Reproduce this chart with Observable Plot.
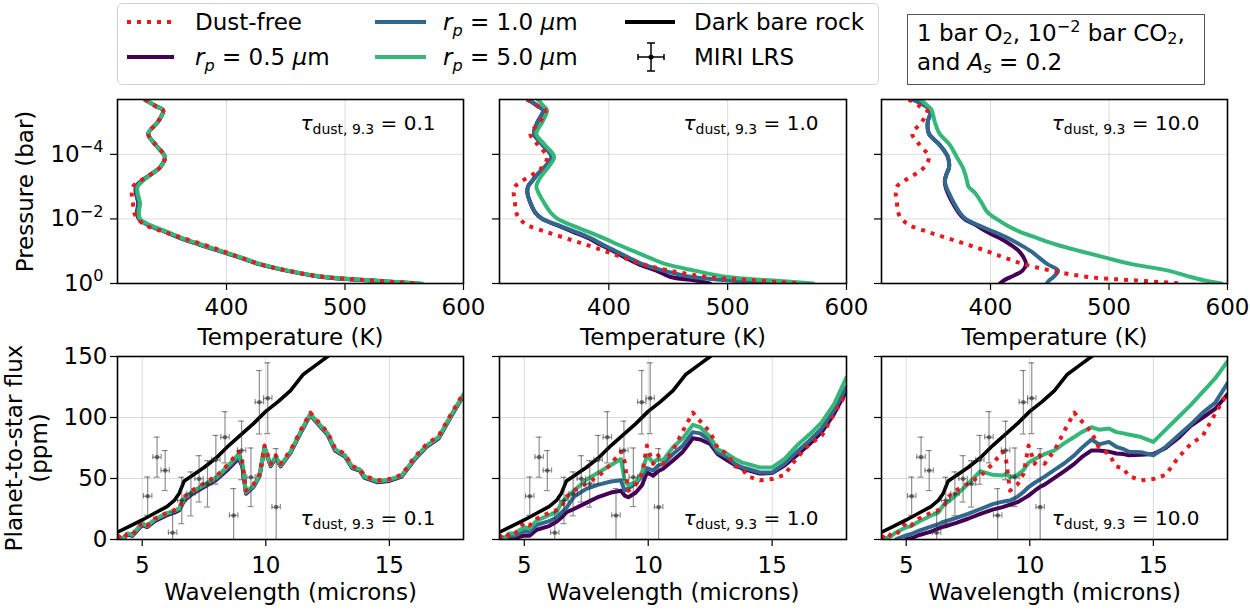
<!DOCTYPE html>
<html>
<head>
<meta charset="utf-8">
<script src="https://cdn.jsdelivr.net/npm/d3@7"></script>
<script src="https://cdn.jsdelivr.net/npm/@observablehq/plot@0.6"></script>
<style>
html,body{margin:0;padding:0;background:#fff;}
#fig{position:relative;width:1250px;height:610px;overflow:hidden;font-family:"DejaVu Sans",sans-serif;font-size:23px;color:#000;}
.abs{position:absolute;white-space:nowrap;line-height:28px;height:28px;}
.it{font-style:italic;}
sub,sup{font-size:70%;line-height:0;}
.legend{position:absolute;left:117px;top:3px;width:762px;height:82px;border:1.3px solid #d3d3d3;border-radius:5px;box-sizing:border-box;background:#fff;}
.note{position:absolute;left:907px;top:14px;width:298px;height:71px;border:1.3px solid #555;box-sizing:border-box;background:#fff;}
.note div{position:absolute;left:9px;top:4px;white-space:nowrap;line-height:29px;}
.note sub{vertical-align:-3px;}
svg.sw{position:absolute;overflow:visible;}
</style>
</head>
<body>
<div id="fig">
  <div class="legend"></div>
  <svg class="sw" style="left:127px;top:17px" width="47" height="10"><line x1="0" y1="5" x2="47" y2="5" stroke="#e41a1c" stroke-width="4" stroke-dasharray="4,6"/></svg>
  <div class="abs" style="left:195px;top:8px">Dust-free</div>
  <svg class="sw" style="left:127px;top:52px" width="47" height="10"><line x1="0" y1="5" x2="47" y2="5" stroke="#440154" stroke-width="4"/></svg>
  <div class="abs" style="left:195px;top:43px"><span class="it">r<sub>p</sub></span> = 0.5 <span class="it">μ</span>m</div>
  <svg class="sw" style="left:375px;top:17px" width="51" height="10"><line x1="0" y1="5" x2="51" y2="5" stroke="#31688e" stroke-width="4"/></svg>
  <div class="abs" style="left:443px;top:8px"><span class="it">r<sub>p</sub></span> = 1.0 <span class="it">μ</span>m</div>
  <svg class="sw" style="left:375px;top:52px" width="51" height="10"><line x1="0" y1="5" x2="51" y2="5" stroke="#35b779" stroke-width="4"/></svg>
  <div class="abs" style="left:443px;top:43px"><span class="it">r<sub>p</sub></span> = 5.0 <span class="it">μ</span>m</div>
  <svg class="sw" style="left:625px;top:17px" width="50" height="10"><line x1="0" y1="5" x2="50" y2="5" stroke="#000" stroke-width="4"/></svg>
  <div class="abs" style="left:694px;top:8px">Dark bare rock</div>
  <svg class="sw" style="left:636px;top:42px" width="30" height="30"><g stroke="#000" stroke-width="1.5"><line x1="15" y1="1" x2="15" y2="29"/><line x1="11" y1="1" x2="19" y2="1"/><line x1="11" y1="29" x2="19" y2="29"/><line x1="2" y1="15" x2="28" y2="15"/><line x1="2" y1="12" x2="2" y2="18"/><line x1="28" y1="12" x2="28" y2="18"/></g><circle cx="15" cy="15" r="2.5" fill="#000"/></svg>
  <div class="abs" style="left:694px;top:43px">MIRI LRS</div>
  <div class="note">
    <div>1 bar O<sub>2</sub>, 10<sup>−2</sup> bar CO<sub>2</sub>,<br>and <span class="it">A<sub>s</sub></span> = 0.2</div>
  </div>
</div>
<script>
// ---------------- data ----------------
const logPressure = [-5.7, -5.5, -5.36, -5.0, -4.64, -4.3, -3.92, -3.6, -3.4, -3.2, -3.0, -2.8, -2.5, -2.2, -2.0, -1.8, -1.6, -1.4, -1.2, -1.0, -0.8, -0.6, -0.4, -0.2, -0.1, 0];
const tpDustFree = [331, 340, 346.5, 342, 334, 340, 348, 344, 337, 328, 321, 320, 321, 322, 325, 332, 347, 364, 381, 397, 412, 428, 451, 483, 520, 562];
const tpTau01_r05 = [331, 340, 346.5, 342, 334, 340, 348, 344, 337, 329, 323.5, 323.5, 325.5, 324.5, 326, 334.5, 348.5, 361.5, 377.5, 394.5, 411.5, 427.5, 450.5, 481, 519, 560];
const tpTau01_r10 = [331, 340, 346.5, 342, 334, 340, 348, 344, 337, 329.5, 324, 324, 326, 325, 326.5, 335, 349, 362, 378, 395, 412, 428, 451, 482, 520, 562];
const tpTau01_r50 = [331, 340, 346.6, 342, 334, 340, 348, 344, 337, 330, 325, 325, 327, 326, 327, 336, 350, 363, 379, 396, 413, 429, 452, 484, 523, 565];
const tpTau1_r05 = [332, 340, 344.7, 340, 337, 344, 351.8, 346, 340.4, 336, 332, 331.5, 334, 338, 344, 357, 370, 383, 393, 404, 414, 425, 440, 452, 472, 485];
const tpTau1_r10 = [332, 340, 344.7, 340, 337, 344, 351.8, 346, 340.4, 336, 332, 331.5, 334, 338, 344, 358, 372, 385, 395, 406, 417, 428, 446, 470, 500, 535];
const tpTau1_r50 = [340, 345, 348, 344, 339, 346, 354, 349, 344.7, 341, 339, 341, 345.5, 351, 357, 369, 383, 396, 408, 421, 434, 448, 472, 500, 535, 572];
const tpTau10_r05 = [334.5, 345, 349.8, 347, 348, 357, 364, 365, 363, 361.5, 362, 364, 368, 373, 378, 388, 397, 408, 417, 424, 428, 430, 427, 417, 411.5, 408];
const tpTau10_r10 = [334.5, 345, 349.8, 347, 348, 357, 364, 365, 363, 361.5, 362.5, 365, 369, 374, 379, 390, 403, 415, 425, 434, 441, 448, 457, 453, 449.5, 447.5];
const tpTau10_r50 = [341, 347, 350.4, 353, 357, 365.5, 371.5, 376.5, 378.5, 380, 381.5, 387, 392.5, 397.5, 405, 414, 425, 440, 456, 476, 497, 519, 550, 569, 580, 595];

const wavelength = [4.0, 4.2, 4.4, 4.6, 5.0, 5.2, 5.5, 6.0, 6.3, 6.5, 6.7, 7.0, 7.5, 8.0, 8.5, 8.9, 9.05, 9.2, 9.5, 9.75, 9.95, 10.2, 10.4, 10.6, 11.0, 11.4, 11.8, 12.1, 12.5, 12.8, 13.2, 13.5, 13.8, 14.0, 14.5, 15.0, 15.5, 16.0, 16.5, 17.0, 17.5, 18.0];
const fluxDustFree = [3.3, 0, 5, 4, 14, 11.5, 17, 22, 24, 26, 35, 40, 46, 52, 62, 72, 64, 40, 45, 54, 77, 62, 69, 62, 73, 89, 104, 97, 88, 75, 70, 60, 58, 52, 48.5, 49.5, 53, 67, 78, 85, 103, 120];
const fluxTau01_r05 = [2.5, 0, 4, 3, 12, 10, 15, 20, 22, 24, 32, 37, 43, 49, 58, 66.5, 60, 37.5, 43, 52, 75, 60, 67, 60, 71, 87, 102, 95, 86, 73, 68, 58.5, 56.5, 50.5, 47, 48, 51.5, 65, 76, 83, 101, 118];
const fluxTau01_r10 = [3, 0, 4.5, 3.5, 13, 10.5, 16, 21, 23, 25, 33, 38, 44, 50, 59.5, 68, 61, 38, 43.5, 52.5, 75.5, 60.5, 67.5, 60.5, 71.5, 87.5, 102.5, 95.5, 86.5, 73.5, 68.5, 59, 57, 51, 47.5, 48.5, 52, 65.5, 76.5, 83.5, 101.5, 118.5];
const fluxTau01_r50 = [3.3, 0.5, 5, 4, 13.5, 11, 16.5, 21.5, 23.5, 25.5, 34, 39, 45, 51, 61, 70, 62, 39, 44, 53, 76, 61, 68, 61, 72, 88, 103, 96, 87, 74, 69, 59.5, 57.5, 51.5, 48, 49, 52.5, 66, 77, 84, 102, 119];
const fluxTau1_r05 = [0.5, 0, 1, 1, 3.3, 3, 8, 11, 14.5, 18, 22.3, 25, 30, 35, 38.5, 40, 36, 34.6, 38.5, 44.5, 55, 52.3, 56, 58, 64.7, 72, 83, 82, 78.4, 70, 64.7, 61, 58, 57, 54, 54.5, 60.6, 69, 78, 88, 103, 122];
const fluxTau1_r10 = [0.5, 0, 3, 3, 7, 6, 12, 15, 18, 22, 26, 35, 41.5, 45, 47.5, 48.5, 40, 42, 46, 52, 58.5, 56.5, 60.6, 62, 70, 77, 88, 87, 81, 71.6, 67.5, 62, 59, 58, 55, 55, 62, 72, 81, 91, 106, 125];
const fluxTau1_r50 = [3.3, 1, 5, 5, 10, 9, 15.5, 20, 22.3, 30, 34, 40, 49, 55, 61, 66, 48, 44.5, 47, 55, 69, 63, 66, 65, 75.7, 83, 94, 92, 84, 74, 70, 66, 63, 62, 59, 59, 66, 77, 86, 96, 111, 133];
const fluxTau10_r05 = [null, null, null, null, 0.5, 1, 3.5, 6.5, 9, 10.5, 11.5, 13.5, 17, 21, 24.5, 26.5, 27.5, 28.5, 30.6, 33.5, 36, 40, 43, 45, 50.5, 56, 62, 67.5, 73, 73, 72, 70.5, 70, 69, 69.5, 70, 75, 83, 93, 100, 107, 119];
const fluxTau10_r10 = [null, null, null, 0.3, 3.3, 4.5, 7, 10.5, 12.5, 14.5, 15.6, 17.5, 21, 25, 29, 31, 31.5, 32, 35, 39, 43, 46.5, 49, 51.5, 57, 62.5, 69, 75, 82, 78, 80, 76, 74, 72, 71.6, 69, 76, 85, 94, 104, 112, 128];
const fluxTau10_r50 = [1.5, 1, 3, 6, 10, 11, 14.5, 19.5, 22, 28, 31, 36, 45.5, 56, 53, 52.5, 54, 51, 53, 57, 63, 66, 68, 70, 73, 79, 84, 88, 92, 90, 91, 88, 87, 86, 84, 80, 90, 100, 110, 121, 132, 146];

const rockWavelength = [4.0, 4.5, 5.0, 5.5, 6.0, 6.3, 6.5, 6.7, 7.0, 7.5, 8.0, 8.5, 9.0, 9.5, 10.0, 10.5, 11.0, 11.5, 12.0, 12.5, 13.0];
const rockFlux = [6, 11, 16, 21.5, 27, 32, 38, 48, 52, 59, 67, 77, 86, 95, 105, 113, 122, 135, 142.5, 150, 158];

const miriWavelength = [5.22, 5.6, 5.93, 6.23, 6.6, 6.97, 7.3, 7.64, 7.98, 8.35, 8.7, 9.02, 9.4, 9.74, 10.08, 10.42];
const miriFlux = [35.5, 67.5, 56.5, 5.5, 32, 37.4, 49.7, 45.6, 65.3, 83.8, 19.7, 73, 51, 112.5, 115.8, 26.5];
const miriFluxErr = [15.7, 16.4, 16.4, 17, 19, 18, 19, 19, 20, 21, 22, 24, 24, 26, 29, 48];
const miriHalfWidth = 0.17;

const tauLabels = ["0.1", "1.0", "10.0"];
const tempTicks = [400, 500, 600];
const pressureTicks = [1e-4, 1e-2, 1];
const waveTicks = [5, 10, 15];
const fluxTicks = [0, 50, 100, 150];

const tpSets = [
  [tpTau01_r05, tpTau01_r10, tpTau01_r50],
  [tpTau1_r05, tpTau1_r10, tpTau1_r50],
  [tpTau10_r05, tpTau10_r10, tpTau10_r50]
];
const fluxSets = [
  [fluxTau01_r05, fluxTau01_r10, fluxTau01_r50],
  [fluxTau1_r05, fluxTau1_r10, fluxTau1_r50],
  [fluxTau10_r05, fluxTau10_r10, fluxTau10_r50]
];
const seriesColors = ["#440154", "#31688e", "#35b779"];
const dustColor = "#e41a1c";

// ---------------- layout ----------------
const fig = document.getElementById("fig");
const cols = [
  {left: 0, width: 480, mL: 117, mR: 17},
  {left: 480, width: 385, mL: 19, mR: 19},
  {left: 865, width: 385, mL: 16, mR: 23}
];
const baseStyle = {fontFamily: "DejaVu Sans", fontSize: "23px", color: "black", background: "transparent", overflow: "visible"};
const gridStyle = {stroke: "#000", strokeOpacity: 0.14, strokeWidth: 1};
const errStyle = {stroke: "#333", strokeOpacity: 0.55, strokeWidth: 1.2, clip: true};

function fixTexts(svg) {
  d3.select(svg).selectAll("text").each(function () {
    const t = this.textContent;
    const sel = d3.select(this);
    let m;
    if ((m = t.match(/^10\^(-?\d+)$/))) {
      sel.text("");
      sel.append("tspan").text("10");
      sel.append("tspan").attr("dy", "-0.6em").attr("font-size", "0.7em").text(m[1].replace("-", "\u2212"));
    } else if ((m = t.match(/^τ_(.+) = (.+)$/))) {
      sel.text("").style("white-space", "pre").attr("font-size", "20px");
      sel.append("tspan").attr("font-style", "italic").text("τ");
      sel.append("tspan").attr("font-size", "14px").attr("dy", "4").text(m[1]);
      sel.append("tspan").attr("dy", "-4").text(" = " + m[2]);
    }
  });
}
function place(svg, left, top) {
  svg.style.position = "absolute";
  svg.style.left = left + "px";
  svg.style.top = top + "px";
  fig.appendChild(svg);
  fixTexts(svg);
}

function tpLine(temps, color, dotted) {
  const rows = temps.map((T, j) => ({T, P: 10 ** logPressure[j]}));
  const o = {x: "T", y: "P", stroke: color, strokeWidth: 4, curve: "catmull-rom", clip: true};
  if (dotted) Object.assign(o, {strokeDasharray: "4,6", strokeLinecap: "butt"});
  return Plot.line(rows, o);
}
function specLine(wl, fl, color, width, dotted) {
  const rows = wl.map((w, j) => ({w, f: fl[j]})).filter(d => d.f != null);
  const o = {x: "w", y: "f", stroke: color, strokeWidth: width, clip: true};
  if (dotted) Object.assign(o, {strokeDasharray: "4,6", strokeLinecap: "butt"});
  return Plot.line(rows, o);
}

const miri = miriWavelength.map((w, j) => ({w, f: miriFlux[j], e: miriFluxErr[j]}));

cols.forEach((c, i) => {
  // ---- top row: temperature-pressure ----
  const top = Plot.plot({
    width: c.width, height: 260,
    marginLeft: c.mL, marginRight: c.mR, marginTop: 9, marginBottom: 67,
    style: baseStyle,
    x: {domain: [308, 600]},
    y: {type: "log", domain: [1, 2e-6]},
    marks: [
      Plot.gridX(tempTicks, gridStyle),
      Plot.gridY(pressureTicks, gridStyle),
      tpLine(tpSets[i][0], seriesColors[0]),
      tpLine(tpSets[i][1], seriesColors[1]),
      tpLine(tpSets[i][2], seriesColors[2]),
      tpLine(tpDustFree, dustColor, true),
      Plot.frame({stroke: "black", strokeWidth: 1.6}),
      Plot.axisX({ticks: tempTicks, tickSize: 7, tickPadding: 8, label: null, strokeWidth: 1.2}),
      Plot.axisY({ticks: pressureTicks, tickSize: 7, tickPadding: 7, label: null, strokeWidth: 1.2,
        tickFormat: i === 0 ? (d => `10^${Math.round(Math.log10(d))}`) : (() => "")}),
      Plot.text(["Temperature (K)"], {frameAnchor: "bottom", dy: 54, lineAnchor: "middle"}),
      Plot.text([`τ_dust, 9.3 = ${tauLabels[i]}`], {frameAnchor: "top-right", dx: -28, dy: 24, textAnchor: "end", lineAnchor: "middle"}),
      ...(i === 0 ? [Plot.text(["Pressure (bar)"], {frameAnchor: "left", dx: -92, rotate: -90, textAnchor: "middle", lineAnchor: "middle"})] : [])
    ]
  });
  place(top, c.left, 90);

  // ---- bottom row: emission spectra ----
  const bot = Plot.plot({
    width: c.width, height: 260,
    marginLeft: c.mL, marginRight: c.mR, marginTop: 6, marginBottom: 71,
    style: baseStyle,
    x: {domain: [4, 18]},
    y: {domain: [0, 150]},
    marks: [
      Plot.gridX(waveTicks, gridStyle),
      Plot.gridY(fluxTicks, gridStyle),
      specLine(wavelength, fluxSets[i][0], seriesColors[0], 4),
      specLine(wavelength, fluxSets[i][1], seriesColors[1], 4),
      specLine(wavelength, fluxSets[i][2], seriesColors[2], 4),
      specLine(wavelength, fluxDustFree, dustColor, 4, true),
      specLine(rockWavelength, rockFlux, "#000", 3.6),
      Plot.ruleX(miri, {x: "w", y1: d => d.f - d.e, y2: d => d.f + d.e, ...errStyle}),
      Plot.ruleY(miri, {y: d => d.f + d.e, x1: d => d.w - 0.12, x2: d => d.w + 0.12, ...errStyle}),
      Plot.ruleY(miri, {y: d => d.f - d.e, x1: d => d.w - 0.12, x2: d => d.w + 0.12, ...errStyle}),
      Plot.ruleY(miri, {y: "f", x1: d => d.w - miriHalfWidth, x2: d => d.w + miriHalfWidth, ...errStyle}),
      Plot.ruleX(miri, {x: d => d.w - miriHalfWidth, y1: d => d.f - 2.2, y2: d => d.f + 2.2, ...errStyle}),
      Plot.ruleX(miri, {x: d => d.w + miriHalfWidth, y1: d => d.f - 2.2, y2: d => d.f + 2.2, ...errStyle}),
      Plot.dot(miri, {x: "w", y: "f", r: 2.3, fill: "#333", fillOpacity: 0.65, stroke: "none"}),
      Plot.frame({stroke: "black", strokeWidth: 1.6}),
      Plot.axisX({ticks: waveTicks, tickSize: 7, tickPadding: 10, label: null, strokeWidth: 1.2}),
      Plot.axisY({ticks: fluxTicks, tickSize: 7, tickPadding: 3, label: null, strokeWidth: 1.2,
        tickFormat: i === 0 ? (d => String(d)) : (() => "")}),
      Plot.text(["Wavelength (microns)"], {frameAnchor: "bottom", dy: 53, lineAnchor: "middle"}),
      Plot.text([`τ_dust, 9.3 = ${tauLabels[i]}`], {frameAnchor: "bottom-right", dx: -28, dy: -21, textAnchor: "end", lineAnchor: "middle"}),
      ...(i === 0 ? [Plot.text(["Planet-to-star flux\n(ppm)"], {frameAnchor: "left", dx: -91, rotate: -90, textAnchor: "middle", lineAnchor: "middle", lineHeight: 1.09})] : [])
    ]
  });
  place(bot, c.left, 350);
});
</script>
</body>
</html>
